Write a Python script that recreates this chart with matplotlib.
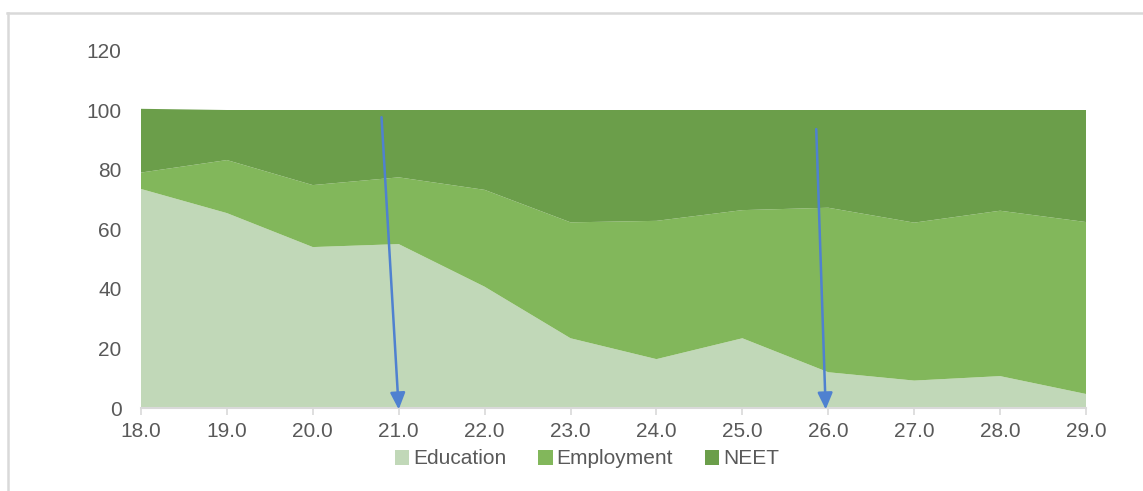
import numpy as np
import matplotlib.pyplot as plt
from matplotlib.lines import Line2D
from matplotlib.patches import Patch

plt.rcParams['font.family'] = ['Liberation Sans', 'DejaVu Sans']

# data (shares in %)
ages = [18.0, 19.0, 20.0, 21.0, 22.0, 23.0, 24.0, 25.0, 26.0, 27.0, 28.0, 29.0]
education = [73.5, 65.4, 54.0, 55.0, 40.7, 23.4, 16.4, 23.4, 12.0, 9.2, 10.7, 4.7]
employment = [5.5, 17.8, 20.8, 22.4, 32.5, 38.9, 46.4, 43.0, 55.2, 53.0, 55.5, 57.7]
neet = [21.4, 16.8, 25.2, 22.6, 26.8, 37.7, 37.2, 33.6, 32.8, 37.8, 33.8, 37.6]
labels = ['Education', 'Employment', 'NEET']
colors = ['#C1D8B8', '#82B75B', '#6B9E4A']

# annotation arrows: (x_start, y_start, x_end, y_end)
arrows = [(20.80, 97.6, 21.0, -0.5), (25.86, 93.6, 25.97, -0.5)]

TEXT = '#595959'
GRID = '#D9D9D9'

fig = plt.figure(figsize=(11.43, 4.91), dpi=100)
ax = fig.add_axes([141 / 1143, 1 - 408 / 491, (1086 - 141) / 1143, (408 - 50.4) / 491])

ax.stackplot(ages, education, employment, neet, colors=colors, labels=labels, linewidth=0)

for x0, y0, x1, y1 in arrows:
    ax.annotate('', xy=(x1, y1), xytext=(x0, y0), annotation_clip=False,
                arrowprops=dict(arrowstyle='-|>,head_length=1.0,head_width=0.45',
                                color='#4F81D0', lw=1.8, shrinkA=0, shrinkB=0),
                zorder=5)

ax.set_xlim(18, 29)
ax.set_ylim(0, 120)
ax.set_xticks(ages)
ax.set_xticklabels([f'{a:.1f}' for a in ages])
ax.set_yticks(np.arange(0, 121, 20))

for s in ['top', 'right', 'left']:
    ax.spines[s].set_visible(False)
ax.spines['bottom'].set_color(GRID)
ax.spines['bottom'].set_linewidth(1.5)
ax.tick_params(axis='x', colors=GRID, length=5, width=1.2, pad=5, labelsize=15, labelcolor=TEXT)
ax.tick_params(axis='y', length=0, pad=14, labelsize=15, labelcolor=TEXT)
ax.set_facecolor('none')

handles = [Patch(facecolor=c, edgecolor='none') for c in colors]
fig.legend(handles, labels, loc='center', bbox_to_anchor=(587 / 1143, 1 - 459 / 491),
           ncol=3, frameon=False, fontsize=15, labelcolor=TEXT,
           handlelength=0.7, handleheight=0.7, handletextpad=0.2, columnspacing=1.5)

# chart frame (top and left edges visible)
fig.add_artist(Line2D([7 / 1143, 1], [1 - 12.5 / 491] * 2, color=GRID, lw=1.8, transform=fig.transFigure))
fig.add_artist(Line2D([7.5 / 1143] * 2, [0, 1 - 12.5 / 491], color=GRID, lw=1.8, transform=fig.transFigure))

fig.savefig('out.png', dpi=100)
